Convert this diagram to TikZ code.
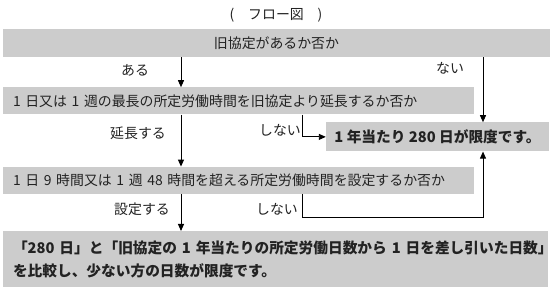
\documentclass[tikz,border=0pt]{standalone}
\usepackage{fontspec}
\setmainfont{Noto Sans CJK JP}
\usetikzlibrary{positioning, calc, arrows.meta}
\definecolor{boxgray}{HTML}{CCCCCC}
\definecolor{inkgray}{HTML}{222222}
\tikzset{
    block/.style = {rectangle, fill=boxgray, text=inkgray, inner sep=0pt, font=\fontsize{13.9}{16}\selectfont},
    question/.style = {block, minimum height=27pt, text width=451pt, inner xsep=10pt, align=left},
    answer/.style = {block, font=\fontsize{14.7}{23}\selectfont\bfseries},
    tag/.style = {text=inkgray, inner sep=1pt, font=\fontsize{13.9}{16}\selectfont},
    line/.style = {draw, -{Triangle[length=7pt,width=6pt]}, line width=0.9pt},
    plain/.style = {draw, line width=0.9pt}
}
\begin{document}
\begin{tikzpicture}[x=1pt, y=-1pt]
        \useasboundingbox (0,0) rectangle (558,288);

        % Title
        \node [tag] (title) at (276,15) {(\quad フロー図\quad )};

        % Old agreement
        \node [block, minimum width=547pt, minimum height=28pt] (old) at (276.5,43) {旧協定があるか否か};

        % Extension question
        \node [question, below right=30pt and 0pt of old.south west] (extend) {1 日又は 1 週の最長の所定労働時間を旧協定より延長するか否か};

        % 280 days limit
        \node [answer, minimum width=223pt, minimum height=29pt, below left=65pt and 1pt of old.south east] (limit) {1 年当たり 280 日が限度です。};

        % Nine hours question
        \node [question, below right=52pt and 0pt of extend.south west] (nine) {1 日 9 時間又は 1 週 48 時間を超える所定労働時間を設定するか否か};

        % Comparison result
        \node [answer, minimum width=545pt, minimum height=56pt, text width=525pt, inner xsep=10pt, align=left, below right=37pt and 0pt of nine.south west] (compare) {\mbox{「280 日」と「旧協定の 1 年当たりの所定労働日数から 1 日を差し引いた日数」}\\\mbox{を比較し、少ない方の日数が限度です。}};

        % Branch labels
        \node [tag] (yes1) at (135,70) {ある};
        \node [tag] (no1) at (450,68) {ない};
        \node [tag] (yes2) at (138,133) {延長する};
        \node [tag] (no2) at (280,130) {しない};
        \node [tag] (yes3) at (142,209) {設定する};
        \node [tag] (no3) at (277,209) {しない};

        % Guide lines
        \coordinate (mainx) at (181,0);
        \coordinate (notx) at (302,0);
        \coordinate (sidex) at (483,0);
        \coordinate (turn) at (302,217);

        % Arrows
        \path [line] (mainx |- old.south) -- (mainx |- extend.north);
        \path [line] (sidex |- old.south) -- (sidex |- limit.north);
        \path [line] (mainx |- extend.south) -- (mainx |- nine.north);
        \path [line] (notx |- extend.south) |- (limit.west);
        \path [line] (mainx |- nine.south) -- (mainx |- compare.north);
        \path [plain] (notx |- nine.south) -- (turn);
        \path [line] (turn) -| (sidex |- limit.south);

    \end{tikzpicture}
\end{document}
